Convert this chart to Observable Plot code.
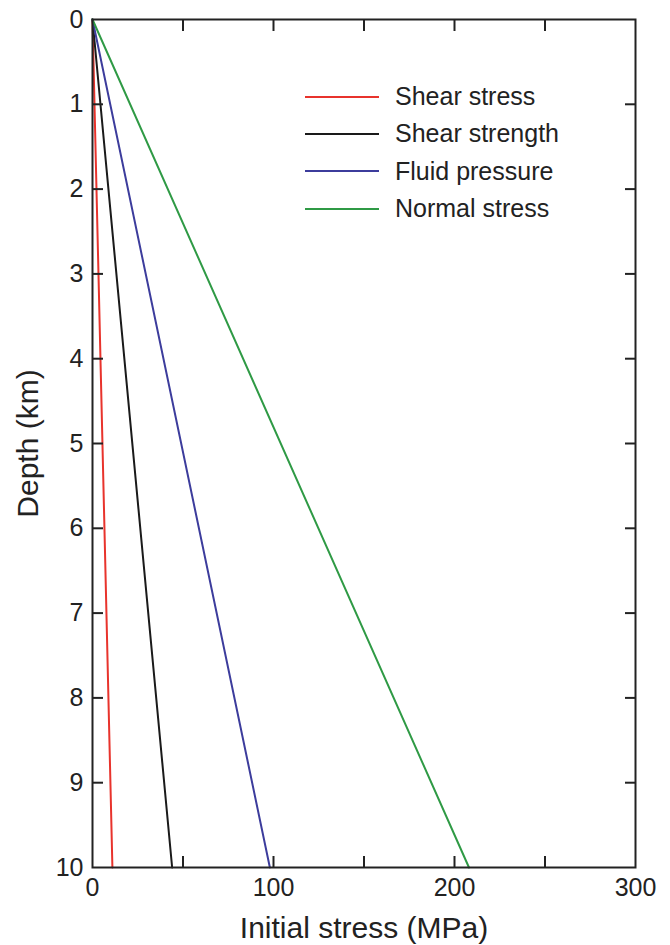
<!DOCTYPE html>
<html>
<head>
<meta charset="utf-8">
<script src="https://cdn.jsdelivr.net/npm/d3@7"></script>
<script src="https://cdn.jsdelivr.net/npm/@observablehq/plot@0.6"></script>
<style>
  body { margin: 0; background: #fff; }
  #wrap { position: relative; width: 670px; height: 945px; font-family: "Liberation Sans", Arial, sans-serif; }
  #legend { position: absolute; left: 305px; top: 78px; }
  .row { display: flex; align-items: center; height: 37.3px; }
  .swatch { width: 74px; height: 0; border-top: 2px solid; margin-right: 16px; }
  .lab { font-size: 25px; color: #222; }
</style>
</head>
<body>
<div id="wrap"></div>
<script>
// Data: linear profiles from surface to 10 km depth
const depthKm = [0, 10];
const seriesNames = ["Shear stress", "Shear strength", "Fluid pressure", "Normal stress"];
const shearStress = [0, 11];
const shearStrength = [0, 44];
const fluidPressure = [0, 98];
const normalStress = [0, 208];
const seriesColors = ["#e8332c", "#1a1a1a", "#3c3c9c", "#2f9a45"];
const xLabelTicks = [0, 100, 200, 300];
const xMinorTicks = [50, 100, 150, 200, 250];
const yLabelTicks = [0, 1, 2, 3, 4, 5, 6, 7, 8, 9, 10];
const yInnerTicks = [1, 2, 3, 4, 5, 6, 7, 8, 9];

const allSeries = [shearStress, shearStrength, fluidPressure, normalStress];
const rows = [];
allSeries.forEach((vals, i) => {
  vals.forEach((v, j) => rows.push({series: seriesNames[i], stress: v, depth: depthKm[j]}));
});

const ink = "#222";
const chart = Plot.plot({
  width: 670,
  height: 945,
  marginLeft: 92,
  marginRight: 35,
  marginTop: 19,
  marginBottom: 78,
  style: {fontFamily: "'Liberation Sans', Arial, sans-serif", fontSize: "25px", background: "#fff", color: ink},
  x: {domain: [0, 300]},
  y: {domain: [0, 10], reverse: true},
  color: {domain: seriesNames, range: seriesColors},
  marks: [
    Plot.line(rows, {x: "stress", y: "depth", z: "series", stroke: "series", strokeWidth: 2}),
    Plot.frame({stroke: ink, strokeWidth: 2}),
    // labels
    Plot.axisX({anchor: "bottom", ticks: xLabelTicks, tickSize: 0, tickPadding: 11, fontSize: 25, label: "Initial stress (MPa)", labelAnchor: "center", labelArrow: "none", labelOffset: 70}),
    Plot.axisY({anchor: "left", ticks: yLabelTicks, tickSize: 0, tickPadding: 9, fontSize: 25, label: "Depth (km)", labelAnchor: "center", labelArrow: "none", labelOffset: 76}),
    // inward ticks on all sides
    Plot.axisX({anchor: "bottom", ticks: xMinorTicks, tickSize: -11, strokeWidth: 2, stroke: ink, tickFormat: () => "", label: null}),
    Plot.axisX({anchor: "top", ticks: xMinorTicks, tickSize: -11, strokeWidth: 2, stroke: ink, tickFormat: () => "", label: null}),
    Plot.axisY({anchor: "left", ticks: yInnerTicks, tickSize: -11, strokeWidth: 2, stroke: ink, tickFormat: () => "", label: null}),
    Plot.axisY({anchor: "right", ticks: yInnerTicks, tickSize: -11, strokeWidth: 2, stroke: ink, tickFormat: () => "", label: null})
  ]
});
const wrap = document.getElementById("wrap");
wrap.appendChild(chart);
// tick labels and axis titles sizes
chart.querySelectorAll("[aria-label='x-axis tick label'], [aria-label='y-axis tick label']").forEach(g => {
  g.setAttribute("font-size", "25");
  g.querySelectorAll("text").forEach(t => t.style.fontSize = "25px");
});
chart.querySelectorAll("[aria-label='x-axis label'], [aria-label='y-axis label']").forEach(g => {
  g.setAttribute("font-size", "30");
  g.querySelectorAll("text").forEach(t => t.style.fontSize = "30px");
});

const legend = document.createElement("div");
legend.id = "legend";
seriesNames.forEach((name, i) => {
  const r = document.createElement("div");
  r.className = "row";
  const sw = document.createElement("div");
  sw.className = "swatch";
  sw.style.borderColor = seriesColors[i];
  const lb = document.createElement("span");
  lb.className = "lab";
  lb.textContent = name;
  r.appendChild(sw); r.appendChild(lb);
  legend.appendChild(r);
});
wrap.appendChild(legend);
</script>
</body>
</html>
